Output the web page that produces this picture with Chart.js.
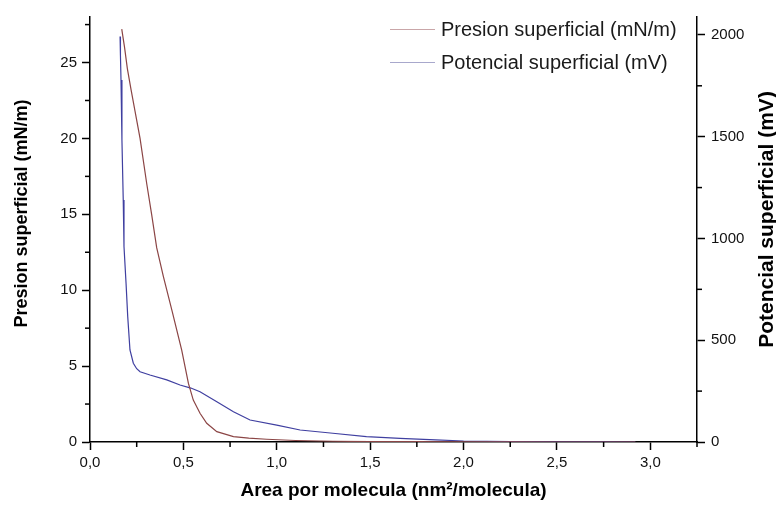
<!DOCTYPE html>
<html>
<head>
<meta charset="utf-8">
<script src="https://cdn.jsdelivr.net/npm/chart.js@4.4.1/dist/chart.umd.min.js"></script>
<style>
html,body{margin:0;padding:0;background:#fff;}
#wrap{width:776px;height:507px;}
</style>
</head>
<body>
<div id="wrap"><canvas id="c" width="776" height="507"></canvas></div>
<script>
const seriesLabels = ['Presion superficial (mN/m)', 'Potencial superficial (mV)'];
const xTitle = 'Area por molecula (nm\u00B2/molecula)';
const yLeftTitle = 'Presion superficial (mN/m)';
const yRightTitle = 'Potencial superficial (mV)';

const xTicks = [0, 0.5, 1.0, 1.5, 2.0, 2.5, 3.0];
const yLeftTicks = [0, 5, 10, 15, 20, 25];
const yRightTicks = [0, 500, 1000, 1500, 2000];

const areaP = [0.170,0.185,0.200,0.220,0.241,0.268,0.304,0.330,0.357,0.393,0.440,0.491,0.527,0.553,0.589,0.625,0.679,0.768,0.850,0.946,1.10,1.30,1.50,1.75,2.00,2.25,2.50,2.75,2.92];
const presion = [27.2,26.0,24.6,23.2,21.8,20.0,17.0,15.0,12.8,10.9,8.6,6.05,3.86,2.76,1.89,1.23,0.68,0.35,0.25,0.18,0.10,0.05,0.03,0.02,0.01,0.01,0.0,0.0,0.0];

const areaV = [0.161,0.163,0.166,0.171,0.178,0.182,0.193,0.202,0.214,0.232,0.250,0.268,0.321,0.411,0.482,0.540,0.589,0.679,0.768,0.857,1.0,1.125,1.30,1.48,1.66,1.85,2.0,2.25,2.5,2.75,2.92];
const potencial = [1992,1900,1779,1484,1189,960,780,616,452,387,360,345,329,305,280,265,247,198,149,108,83,59,43,26,18,10,5,2,1,1,0];

const colorP = '#8b4545';
const colorV = '#3f3fa0';
const legendColorP = '#c9a6a8';
const legendColorV = '#a8a8cc';

function pts(xs, ys){ return xs.map((x,i)=>({x:x, y:ys[i]})); }
function setTicks(arr){ return (s)=>{ s.ticks = arr.map(v=>({value:v})); }; }

const FONT = '"Liberation Sans", Arial, sans-serif';

const minorTicks = {
  id:'minorTicks',
  afterDraw(chart){
    const ctx = chart.ctx;
    ctx.save();
    ctx.strokeStyle = '#000';
    ctx.lineWidth = 1.5;
    Object.values(chart.scales).forEach(s=>{
      const t = s.ticks;
      if (t.length < 2) return;
      const step = t[1].value - t[0].value;
      for (let i=0;i<t.length;i++){
        const m = t[i].value + step/2;
        if (m > s.max + 1e-9) continue;
        const p = s.getPixelForValue(m);
        ctx.beginPath();
        if (s.axis === 'x'){
          ctx.moveTo(p, s.top); ctx.lineTo(p, s.top + 5);
        } else if (s.position === 'left'){
          ctx.moveTo(s.right, p); ctx.lineTo(s.right - 5, p);
        } else {
          ctx.moveTo(s.left, p); ctx.lineTo(s.left + 5, p);
        }
        ctx.stroke();
      }
    });
    ctx.restore();
  }
};

const yTitles = {
  id:'yTitles',
  afterDraw(chart){
    const ctx = chart.ctx;
    const a = chart.chartArea;
    ctx.save();
    ctx.fillStyle = '#000';
    ctx.textAlign = 'center';
    ctx.textBaseline = 'middle';
    const sl = chart.scales.y, sr = chart.scales.y1;
    ctx.save();
    ctx.font = 'bold 18px ' + FONT;
    ctx.translate(sl.left + 22, (a.top + a.bottom)/2 - 16);
    ctx.rotate(-Math.PI/2);
    ctx.fillText(yLeftTitle, 0, 0);
    ctx.restore();
    ctx.save();
    ctx.font = 'bold 21px ' + FONT;
    ctx.translate(sr.right - 9, (a.top + a.bottom)/2 - 10);
    ctx.rotate(-Math.PI/2);
    ctx.fillText(yRightTitle, 0, 0);
    ctx.restore();
    ctx.restore();
  }
};

const customLegend = {
  id:'customLegend',
  afterDraw(chart){
    const ctx = chart.ctx;
    const a = chart.chartArea;
    const cols = [legendColorP, legendColorV];
    ctx.save();
    ctx.font = '20px ' + FONT;
    ctx.textBaseline = 'middle';
    chart.data.datasets.forEach((ds,i)=>{
      const y = a.top + 12 + i*33;
      ctx.strokeStyle = cols[i];
      ctx.lineWidth = 1;
      ctx.beginPath();
      ctx.moveTo(a.right - 307, y + 0.5);
      ctx.lineTo(a.right - 262, y + 0.5);
      ctx.stroke();
      ctx.fillStyle = '#1a1a1a';
      ctx.fillText(ds.label, a.right - 256, y + 1);
    });
    ctx.restore();
  }
};

const tickFont = {family:FONT, size:15};
const gridOpts = {drawOnChartArea:false, drawTicks:true, tickLength:8, tickColor:'#000', tickWidth:1.5};
const borderOpts = {display:true, color:'#000', width:1.5};

new Chart(document.getElementById('c'), {
  type:'line',
  data:{
    datasets:[
      {label:seriesLabels[0], data:pts(areaP, presion), borderColor:colorP, borderWidth:1.2, pointRadius:0, tension:0, yAxisID:'y', fill:false},
      {label:seriesLabels[1], data:pts(areaV, potencial), borderColor:colorV, borderWidth:1.2, pointRadius:0, tension:0, yAxisID:'y1', fill:false}
    ]
  },
  options:{
    responsive:false,
    animation:false,
    layout:{padding:{top:17, left:0, right:0, bottom:0}},
    plugins:{legend:{display:false}, tooltip:{enabled:false}},
    scales:{
      x:{
        type:'linear', min:0, max:3.25,
        afterFit(s){ s.height = 65; },
        afterBuildTicks:setTicks(xTicks),
        ticks:{color:'#111', font:tickFont, padding:4, maxRotation:0, autoSkip:false,
          callback:(v)=> v.toFixed(1).replace('.',',')},
        grid:gridOpts,
        border:borderOpts,
        title:{display:true, text:xTitle, color:'#000', font:{family:FONT, size:19, weight:'bold'}, padding:{top:0,bottom:5}}
      },
      y:{
        type:'linear', position:'left', min:0, max:28,
        afterFit(s){ s.width = 90; },
        afterBuildTicks:setTicks(yLeftTicks),
        ticks:{color:'#111', font:tickFont, padding:5, autoSkip:false, callback:(v)=>String(v)},
        grid:gridOpts,
        border:borderOpts,
        title:{display:false}
      },
      y1:{
        type:'linear', position:'right', min:0, max:2088,
        afterFit(s){ s.width = 79; },
        afterBuildTicks:setTicks(yRightTicks),
        ticks:{color:'#111', font:tickFont, padding:6, autoSkip:false, callback:(v)=>String(v)},
        grid:gridOpts,
        border:borderOpts,
        title:{display:false}
      }
    }
  },
  plugins:[minorTicks, yTitles, customLegend]
});
</script>
</body>
</html>
